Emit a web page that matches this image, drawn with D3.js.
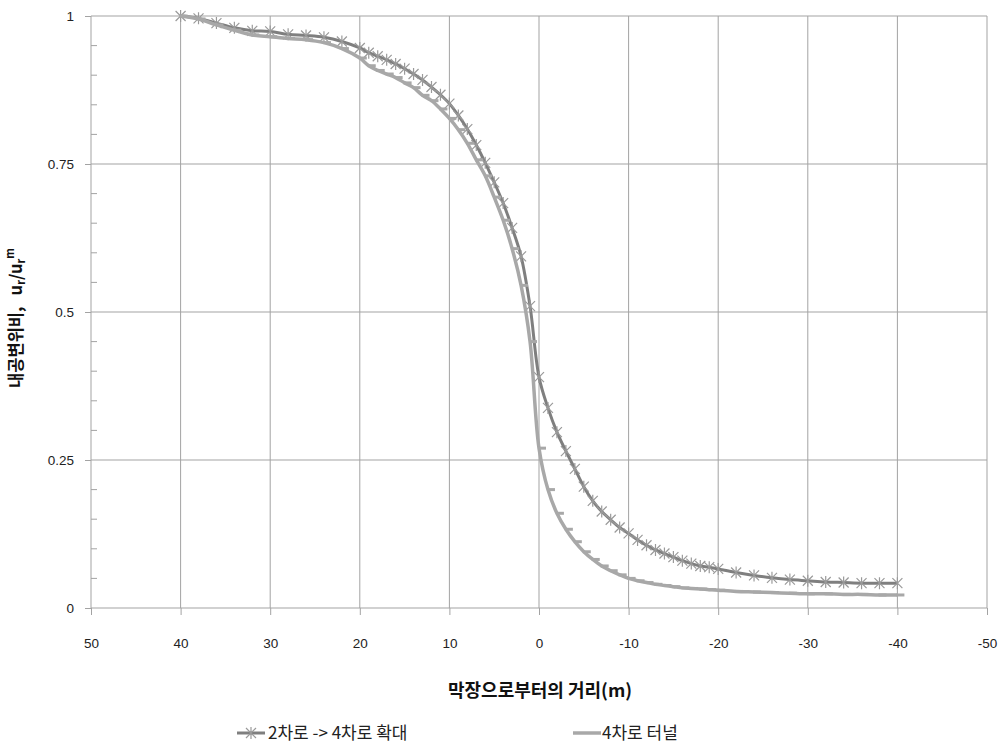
<!DOCTYPE html>
<html>
<head>
<meta charset="utf-8">
<script src="https://cdn.jsdelivr.net/npm/d3@7"></script>
<style>
  body { margin: 0; background: #fff; }
  svg { font-family: "Noto Sans CJK KR", "Noto Sans", sans-serif; }
  .tick-label { font-size: 13.5px; fill: #222; }
  .axis-title { font-weight: bold; fill: #111; }
  .legend-text { font-size: 17px; fill: #222; }
</style>
</head>
<body>
<div id="chart"></div>
<script>
// Distance from the tunnel face (m)
const distances = [40, 38, 36, 34, 32, 30, 28, 26, 24, 22, 20,
  19, 18, 17, 16, 15, 14, 13, 12, 11, 10, 9, 8, 7, 6, 5, 4, 3, 2, 1, 0,
  -1, -2, -3, -4, -5, -6, -7, -8, -9, -10, -11, -12, -13, -14, -15, -16, -17, -18, -19, -20,
  -22, -24, -26, -28, -30, -32, -34, -36, -38, -40];

// 2차로 -> 4차로 확대
const ratioWidening = [1.0, 0.996, 0.988, 0.980, 0.975, 0.974, 0.969, 0.967, 0.964, 0.957, 0.946,
  0.938, 0.932, 0.926, 0.919, 0.911, 0.902, 0.892, 0.880, 0.867, 0.852, 0.832, 0.809, 0.782, 0.752, 0.719, 0.684, 0.642, 0.594, 0.510, 0.390,
  0.338, 0.297, 0.265, 0.235, 0.205, 0.181, 0.163, 0.149, 0.136, 0.126, 0.115, 0.106, 0.098, 0.092, 0.086, 0.080, 0.075, 0.071, 0.069, 0.066,
  0.060, 0.055, 0.051, 0.048, 0.046, 0.044, 0.043, 0.042, 0.042, 0.042];

// 4차로 터널
const ratioFourLane = [1.0, 0.995, 0.985, 0.976, 0.968, 0.965, 0.962, 0.960, 0.955, 0.945, 0.929,
  0.916, 0.908, 0.902, 0.896, 0.887, 0.879, 0.866, 0.857, 0.843, 0.827, 0.808, 0.785, 0.757, 0.730, 0.694, 0.655, 0.607, 0.545, 0.450, 0.270,
  0.200, 0.160, 0.133, 0.112, 0.095, 0.082, 0.071, 0.063, 0.056, 0.050, 0.046, 0.043, 0.040, 0.038, 0.036, 0.034, 0.033, 0.032, 0.031, 0.030,
  0.028, 0.027, 0.026, 0.025, 0.024, 0.024, 0.023, 0.023, 0.022, 0.022];

const xTicks = [50, 40, 30, 20, 10, 0, -10, -20, -30, -40, -50];
const yTicks = [0, 0.25, 0.5, 0.75, 1];
const seriesNames = ["2차로 -> 4차로 확대", "4차로 터널"];

const width = 1003, height = 744;
const margin = { top: 16, right: 16, bottom: 136, left: 91 };

const svg = d3.select("#chart").append("svg")
    .attr("width", width)
    .attr("height", height);

const x = d3.scaleLinear().domain([50, -50]).range([margin.left, width - margin.right]);
const y = d3.scaleLinear().domain([0, 1]).range([height - margin.bottom, margin.top]);

const gridColor = "#a3a3a3";

// Gridlines
svg.append("g")
    .selectAll("line")
    .data(xTicks)
    .join("line")
    .attr("x1", d => x(d)).attr("x2", d => x(d))
    .attr("y1", y(1)).attr("y2", y(0))
    .attr("stroke", gridColor);

svg.append("g")
    .selectAll("line")
    .data(yTicks)
    .join("line")
    .attr("x1", x(50)).attr("x2", x(-50))
    .attr("y1", d => y(d)).attr("y2", d => y(d))
    .attr("stroke", gridColor);

// Y axis: major ticks outside, minor ticks inside
const yAxis = svg.append("g").attr("transform", `translate(${x(50)},0)`);
yAxis.call(d3.axisLeft(y).tickValues(yTicks).tickSize(6).tickPadding(11).tickFormat(d => d));
yAxis.call(g => g.select(".domain").remove());
yAxis.selectAll(".tick line").attr("stroke", gridColor);
yAxis.selectAll(".tick text").attr("class", "tick-label").attr("font-family", null).attr("font-size", null);
yAxis.append("g")
    .selectAll("line")
    .data(d3.range(0, 1.0001, 0.05).filter(v => Math.abs(v * 4 - Math.round(v * 4)) > 1e-6))
    .join("line")
    .attr("x1", 0).attr("x2", 6)
    .attr("y1", d => y(d)).attr("y2", d => y(d))
    .attr("stroke", gridColor);

// X axis
const xAxis = svg.append("g").attr("transform", `translate(0,${y(0)})`);
xAxis.call(d3.axisBottom(x).tickValues(xTicks).tickSize(7).tickPadding(23).tickFormat(d => d));
xAxis.call(g => g.select(".domain").remove());
xAxis.selectAll(".tick line").attr("stroke", gridColor);
xAxis.selectAll(".tick text").attr("class", "tick-label").attr("font-family", null).attr("font-size", null);

// Axis titles
svg.append("text")
    .attr("class", "axis-title")
    .attr("font-size", 18)
    .attr("x", 540)
    .attr("y", 697)
    .attr("text-anchor", "middle")
    .text("막장으로부터의 거리(m)");

const yTitle = svg.append("text")
    .attr("class", "axis-title")
    .attr("font-size", 16.5)
    .attr("transform", "translate(22,318) rotate(-90)")
    .attr("text-anchor", "middle")
    .attr("xml:space", "preserve");
yTitle.append("tspan").text("내공변위비,   u");
yTitle.append("tspan").attr("font-size", "11px").attr("dy", 3).text("r");
yTitle.append("tspan").attr("dy", -3).text("/u");
yTitle.append("tspan").attr("font-size", "11px").attr("dy", 3).text("r");
yTitle.append("tspan").attr("font-size", "11px").attr("dy", -11).text("m");

// Series
const wideningData = distances.map((d, i) => ({ d, v: ratioWidening[i] }));
const fourLaneData = distances.map((d, i) => ({ d, v: ratioFourLane[i] }));

const line = d3.line()
    .x(p => x(p.d))
    .y(p => y(p.v))
    .curve(d3.curveCatmullRom.alpha(0.5));

const darkColor = "#7f7f7f";
const starColor = "#9a9a9a";
const lightColor = "#a8a8a8";
const starPath = "M0,-6L0,6M-5,-5L5,5M-5,5L5,-5";

svg.append("path")
    .datum(wideningData)
    .attr("fill", "none")
    .attr("stroke", darkColor)
    .attr("stroke-width", 3)
    .attr("d", line);

svg.append("g")
    .selectAll("path")
    .data(wideningData)
    .join("path")
    .attr("transform", p => `translate(${x(p.d)},${y(p.v)})`)
    .attr("d", starPath)
    .attr("stroke", starColor)
    .attr("stroke-width", 1.2)
    .attr("fill", "none");

svg.append("path")
    .datum(fourLaneData)
    .attr("fill", "none")
    .attr("stroke", lightColor)
    .attr("stroke-width", 3.5)
    .attr("d", line);

svg.append("g")
    .selectAll("rect")
    .data(fourLaneData)
    .join("rect")
    .attr("x", p => x(p.d) - 1)
    .attr("y", p => y(p.v) - 1.5)
    .attr("width", 8)
    .attr("height", 3)
    .attr("fill", lightColor);

// Legend
const legend = svg.append("g");
const legendY = 733;

legend.append("line")
    .attr("x1", 237).attr("x2", 265)
    .attr("y1", legendY).attr("y2", legendY)
    .attr("stroke", darkColor).attr("stroke-width", 3);
legend.append("path")
    .attr("transform", `translate(251,${legendY})`)
    .attr("d", starPath)
    .attr("stroke", starColor)
    .attr("stroke-width", 1.2)
    .attr("fill", "none");
legend.append("text")
    .attr("class", "legend-text")
    .attr("x", 268).attr("y", legendY + 6)
    .text(seriesNames[0]);

legend.append("line")
    .attr("x1", 573).attr("x2", 601)
    .attr("y1", legendY).attr("y2", legendY)
    .attr("stroke", lightColor).attr("stroke-width", 3.5);
legend.append("text")
    .attr("class", "legend-text")
    .attr("x", 602).attr("y", legendY + 6)
    .text(seriesNames[1]);
</script>
</body>
</html>
